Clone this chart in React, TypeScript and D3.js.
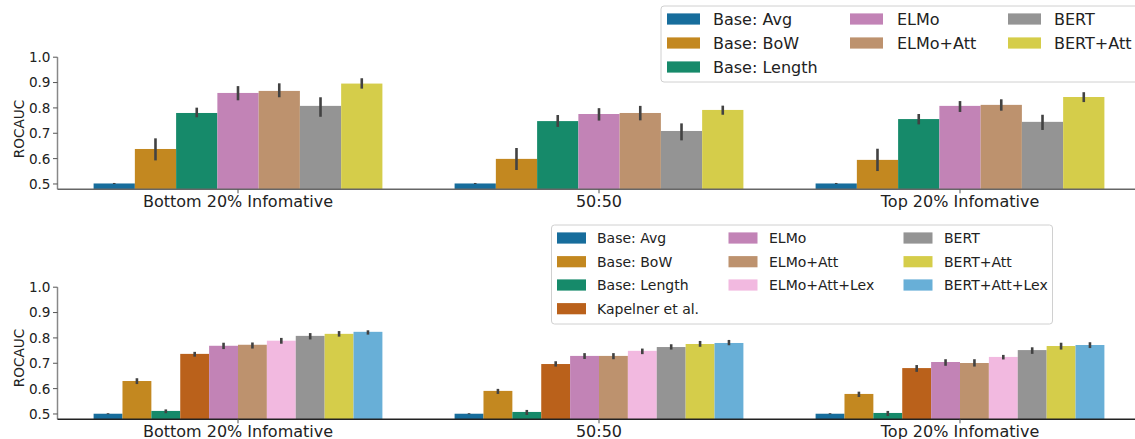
import React from "react";
import * as d3 from "d3";

const groups = ["Bottom 20% Infomative", "50:50", "Top 20% Infomative"];

// Top panel
const topModels = ["Base: Avg", "Base: BoW", "Base: Length", "ELMo", "ELMo+Att", "BERT", "BERT+Att"];
const topColors = ["#176d9c", "#c38820", "#168a6a", "#c283b6", "#bd926e", "#949494", "#d5cd4a"];
const topMeans = [
  [0.502, 0.502, 0.502],
  [0.638, 0.599, 0.595],
  [0.78, 0.748, 0.756],
  [0.859, 0.776, 0.808],
  [0.867, 0.78, 0.812],
  [0.808, 0.709, 0.745],
  [0.896, 0.792, 0.843],
];
const topLow = [
  [0.5, 0.5, 0.5],
  [0.593, 0.555, 0.551],
  [0.763, 0.725, 0.735],
  [0.83, 0.75, 0.784],
  [0.842, 0.751, 0.789],
  [0.765, 0.672, 0.713],
  [0.876, 0.773, 0.823],
];
const topHigh = [
  [0.504, 0.504, 0.504],
  [0.68, 0.642, 0.639],
  [0.801, 0.772, 0.776],
  [0.886, 0.799, 0.827],
  [0.897, 0.808, 0.834],
  [0.842, 0.739, 0.773],
  [0.917, 0.809, 0.862],
];

// Bottom panel
const botModels = [
  "Base: Avg", "Base: BoW", "Base: Length", "Kapelner et al.", "ELMo", "ELMo+Att",
  "ELMo+Att+Lex", "BERT", "BERT+Att", "BERT+Att+Lex",
];
const botColors = [
  "#176d9c", "#c38820", "#168a6a", "#ba611b", "#c283b6", "#bd926e",
  "#f2b9e0", "#949494", "#d5cd4a", "#68afd7",
];
const botMeans = [
  [0.501, 0.501, 0.501],
  [0.63, 0.591, 0.579],
  [0.512, 0.508, 0.504],
  [0.737, 0.697, 0.681],
  [0.769, 0.729, 0.705],
  [0.773, 0.729, 0.701],
  [0.789, 0.749, 0.725],
  [0.808, 0.764, 0.752],
  [0.816, 0.776, 0.768],
  [0.824, 0.78, 0.772],
];
const botLow = [
  [0.499, 0.499, 0.499],
  [0.618, 0.579, 0.567],
  [0.503, 0.496, 0.492],
  [0.726, 0.687, 0.666],
  [0.756, 0.717, 0.69],
  [0.758, 0.716, 0.687],
  [0.777, 0.736, 0.715],
  [0.794, 0.754, 0.737],
  [0.805, 0.765, 0.754],
  [0.813, 0.771, 0.76],
];
const botHigh = [
  [0.503, 0.503, 0.503],
  [0.641, 0.599, 0.588],
  [0.518, 0.516, 0.512],
  [0.745, 0.708, 0.693],
  [0.781, 0.74, 0.716],
  [0.782, 0.74, 0.716],
  [0.8, 0.758, 0.733],
  [0.819, 0.775, 0.763],
  [0.827, 0.788, 0.781],
  [0.83, 0.792, 0.783],
];

const yTicks = [0.5, 0.6, 0.7, 0.8, 0.9, 1.0];
const FONT = "DejaVu Sans, sans-serif";

type PanelProps = {
  top: number;
  bottom: number;
  means: number[][];
  low: number[][];
  high: number[][];
  colors: string[];
  bottomSpine: string;
  labelY: number;
  ylabelY: number;
};

function Panel({ top, bottom, means, low, high, colors, bottomSpine, labelY, ylabelY }: PanelProps) {
  const left = 57.5;
  const x = d3.scaleLinear().domain([-0.5, 2.5]).range([left, 1140.5]);
  const y = d3.scaleLinear().domain([0.479, 1.0]).range([bottom, top]);
  const n = means.length;
  const bw = 0.8 / n;
  const bars: React.ReactNode[] = [];
  const errs: React.ReactNode[] = [];
  means.forEach((row, j) => {
    row.forEach((v, i) => {
      const x0 = x(i - 0.4 + j * bw);
      const x1 = x(i - 0.4 + (j + 1) * bw);
      bars.push(
        <rect key={`b${j}-${i}`} x={x0} y={y(v)} width={x1 - x0} height={y(0.479) - y(v)} fill={colors[j]} />
      );
      const cx = (x0 + x1) / 2;
      errs.push(
        <line key={`e${j}-${i}`} x1={cx} x2={cx} y1={y(low[j][i])} y2={y(high[j][i])} stroke="#424242" strokeWidth={2.6} />
      );
    });
  });
  return (
    <g>
      {bars}
      {errs}
      <line x1={left} x2={left} y1={y(1.0)} y2={bottom} stroke="#888" strokeWidth={1.5} />
      <line x1={left} x2={1140} y1={bottom} y2={bottom} stroke={bottomSpine} strokeWidth={1.5} />
      {yTicks.map((t) => (
        <g key={t}>
          <line x1={left - 4.5} x2={left} y1={y(t)} y2={y(t)} stroke="#555" strokeWidth={1} />
          <text x={left - 7} y={y(t)} dy="0.36em" textAnchor="end" fontSize={13.6} fontFamily={FONT} fill="#222">
            {t.toFixed(1)}
          </text>
        </g>
      ))}
      {groups.map((g, i) => (
        <g key={g}>
          <line x1={x(i)} x2={x(i)} y1={bottom} y2={bottom + 4} stroke="#555" strokeWidth={1} />
          <text x={x(i)} y={labelY} textAnchor="middle" fontSize={16} fontFamily={FONT} fill="#222">
            {g}
          </text>
        </g>
      ))}
      <text
        transform={`translate(23.5, ${ylabelY}) rotate(-90)`}
        textAnchor="middle"
        fontSize={13.6}
        fontFamily={FONT}
        fill="#222"
      >
        ROCAUC
      </text>
    </g>
  );
}

type LegendProps = {
  bx: number; by: number; bw: number; bh: number;
  items: string[]; colors: string[]; perCol: number[];
  swX: number[]; txX: number[]; rowY: number[]; swW: number; fs: number;
};

function Legend({ bx, by, bw, bh, items, colors, perCol, swX, txX, rowY, swW, fs }: LegendProps) {
  const out: React.ReactNode[] = [];
  let k = 0;
  perCol.forEach((cnt, c) => {
    for (let r = 0; r < cnt; r++) {
      out.push(
        <g key={items[k]}>
          <rect x={swX[c]} y={rowY[r] - 5.6} width={swW} height={11.2} fill={colors[k]} />
          <text x={txX[c]} y={rowY[r]} dy="0.36em" fontSize={fs} fontFamily={FONT} fill="#222">
            {items[k]}
          </text>
        </g>
      );
      k++;
    }
  });
  return (
    <g>
      <rect x={bx} y={by} width={bw} height={bh} rx={3} fill="white" fillOpacity={0.8} stroke="#d0d0d0" strokeWidth={1} />
      {out}
    </g>
  );
}

export default function App() {
  return (
    <svg width={1135} height={439} style={{ position: "absolute", left: 0, top: 0, background: "white" }}>
      <Panel
        top={57.2}
        bottom={189.3}
        means={topMeans}
        low={topLow}
        high={topHigh}
        colors={topColors}
        bottomSpine="#666"
        labelY={206.5}
        ylabelY={129}
      />
      <Panel
        top={287.2}
        bottom={419.3}
        means={botMeans}
        low={botLow}
        high={botHigh}
        colors={botColors}
        bottomSpine="#222"
        labelY={436.5}
        ylabelY={358}
      />
      <Legend
        bx={661} by={6} bw={480} bh={76}
        items={topModels} colors={topColors} perCol={[3, 2, 2]}
        swX={[667, 850, 1008]} txX={[713, 897, 1054]} rowY={[19, 43, 67]} swW={33} fs={16}
      />
      <Legend
        bx={551.5} by={225} bw={501} bh={99}
        items={botModels} colors={botColors} perCol={[4, 3, 3]}
        swX={[557, 728.5, 903.5]} txX={[597, 769, 944]} rowY={[238, 261.7, 285, 308.7]} swW={29} fs={14}
      />
    </svg>
  );
}
